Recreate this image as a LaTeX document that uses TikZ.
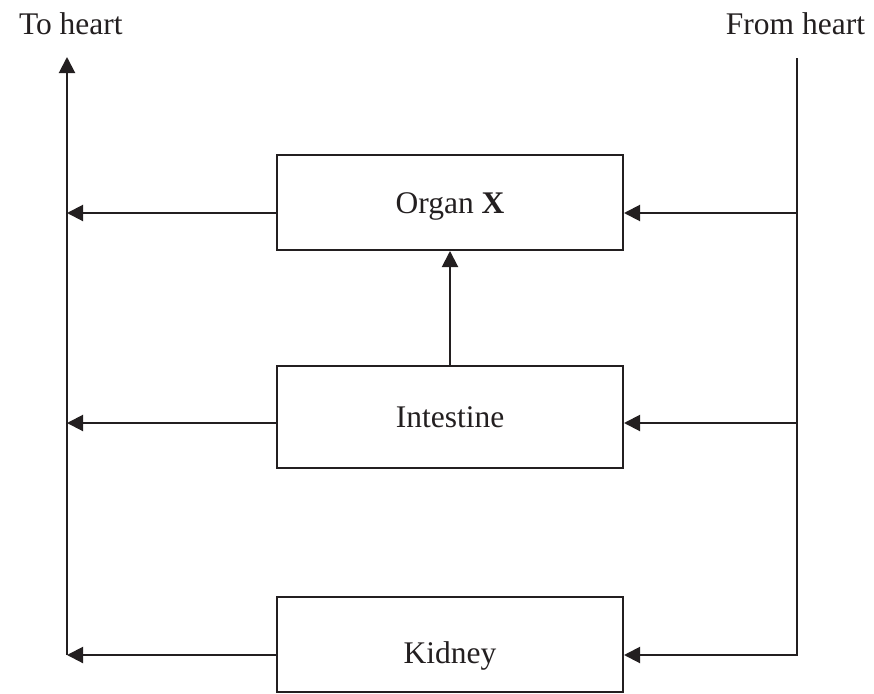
\documentclass[tikz,border=0pt]{standalone}
\usepackage{fontspec}
\setmainfont{Liberation Serif}
\usetikzlibrary{arrows.meta}
\definecolor{ink}{HTML}{231F20}
\begin{document}
\begin{tikzpicture}[x=1pt,y=-1pt,
  line width=2pt, draw=ink,
  lbl/.style={font=\fontsize{31.5}{38}\selectfont, text=ink, inner sep=0pt},
  organbox/.style={draw=ink, line width=2pt, minimum width=346pt, inner sep=0pt,
    text height=21pt, text depth=0pt, font=\fontsize{31.5}{38}\selectfont, text=ink},
  arr/.style={-{Triangle[length=16pt,width=16pt]}}]
\useasboundingbox (0,0) rectangle (874,693);
% labels
\node[lbl, anchor=base west] (tohrt) at (18,35) {To heart};
\node[lbl, anchor=base east] (fromhrt) at (866,35) {From heart};
% boxes
\node[organbox, minimum height=95pt] (org) at (450,202.5) {Organ \textbf{X}};
\node[organbox, minimum height=102pt] (int) at (450,417) {Intestine};
\node[organbox, minimum height=95pt, text height=37pt] (kid) at (450,644.5) {Kidney};
% trunk coordinates
\coordinate (L0) at (67,57);
\coordinate (LK) at (67,655);
\coordinate (R0) at (797,58);
\coordinate (RK) at (797,655);
\coordinate (LO) at (67,213);
\coordinate (RO) at (797,213);
\coordinate (LI) at (67,423);
\coordinate (RI) at (797,423);
% vertical lines
\draw[arr] (LK) -- (L0);
\draw[arr] (R0) -- (RK) -- (RK -| kid.east);
% organ X
\draw[arr] (RO) -- (RO -| org.east);
\draw[arr] (LO -| org.west) -- (LO);
% intestine
\draw[arr] (RI) -- (RI -| int.east);
\draw[arr] (LI -| int.west) -- (LI);
\draw[arr] (int.north) -- (org.south);
% kidney
\draw[arr] (LK -| kid.west) -- (LK);
\end{tikzpicture}
\end{document}
